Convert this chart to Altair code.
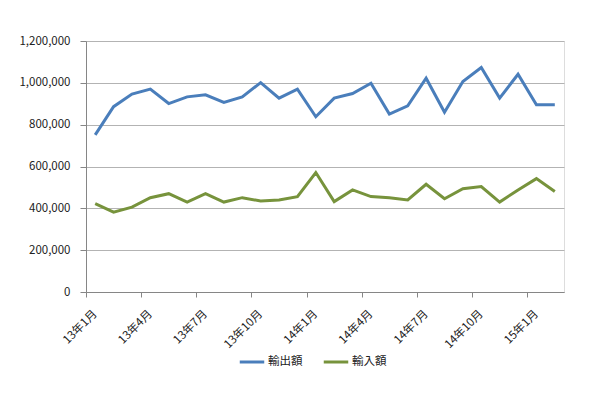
import json
import altair as alt
import pandas as pd

months = [
    "13年1月", "13年2月", "13年3月", "13年4月", "13年5月", "13年6月",
    "13年7月", "13年8月", "13年9月", "13年10月", "13年11月", "13年12月",
    "14年1月", "14年2月", "14年3月", "14年4月", "14年5月", "14年6月",
    "14年7月", "14年8月", "14年9月", "14年10月", "14年11月", "14年12月",
    "15年1月", "15年2月",
]
exports = [
    751000, 886000, 946000, 970000, 901000, 933000, 943000, 906000, 933000,
    1001000, 927000, 970000, 838000, 927000, 949000, 998000, 851000, 890000,
    1022000, 859000, 1006000, 1073000, 927000, 1041000, 895000, 895000,
]
imports = [
    422000, 382000, 406000, 451000, 470000, 430000, 470000, 430000, 451000,
    435000, 440000, 456000, 571000, 432000, 488000, 456000, 451000, 440000,
    515000, 446000, 494000, 504000, 430000, 488000, 542000, 480000,
]
series_names = ["輸出額", "輸入額"]
series_colors = ["#4A7EBB", "#77933C"]
y_ticks = [0, 200000, 400000, 600000, 800000, 1000000, 1200000]

rows = []
for name, vals in zip(series_names, [exports, imports]):
    for i, v in enumerate(vals):
        rows.append({"series": name, "idx": i, "month": months[i], "value": v})
df = pd.DataFrame(rows)

tick_vals = [i - 0.5 for i in range(0, len(months), 3)]
label_expr = json.dumps(months, ensure_ascii=False) + "[round(datum.value + 0.5)]"

font = "Noto Sans CJK JP"

chart = (
    alt.Chart(df)
    .mark_line(strokeWidth=3)
    .encode(
        x=alt.X(
            "idx:Q",
            scale=alt.Scale(domain=[-0.5, len(months) - 0.5], nice=False, zero=False),
            axis=alt.Axis(
                values=tick_vals,
                labelExpr=label_expr,
                labelAngle=-45,
                labelAlign="right",
                labelBaseline="middle",
                labelOffset=9,
                labelPadding=15,
                grid=False,
                tickSize=5,
                tickColor="#868686",
                domainColor="#868686",
                labelFont=font,
                labelFontSize=11.5,
                labelColor="#222222",
                title=None,
            ),
        ),
        y=alt.Y(
            "value:Q",
            scale=alt.Scale(domain=[0, 1200000], nice=False),
            axis=alt.Axis(
                values=y_ticks,
                format=",.0f",
                grid=True,
                gridColor="#B3B3B3",
                tickSize=6,
                tickColor="#868686",
                domainColor="#868686",
                labelPadding=10,
                labelFont=font,
                labelFontSize=11.5,
                labelColor="#222222",
                title=None,
            ),
        ),
        color=alt.Color(
            "series:N",
            scale=alt.Scale(domain=series_names, range=series_colors),
            sort=series_names,
            legend=alt.Legend(
                orient="none",
                legendX=152,
                legendY=307,
                direction="horizontal",
                title=None,
                symbolType="stroke",
                symbolSize=600,
                symbolStrokeWidth=3,
                labelFont=font,
                labelFontSize=11.5,
                labelColor="#222222",
                columnPadding=14,
                labelOffset=2,
            ),
        ),
    )
    .properties(
        width=478,
        height=251,
        padding={"left": 78, "top": 33, "right": 28, "bottom": 94},
        autosize=alt.AutoSizeParams(type="none"),
    )
    .configure_view(stroke=None)
    .configure(background="white")
)

chart.save("out.html", embed_options={"renderer": "svg", "actions": False})
